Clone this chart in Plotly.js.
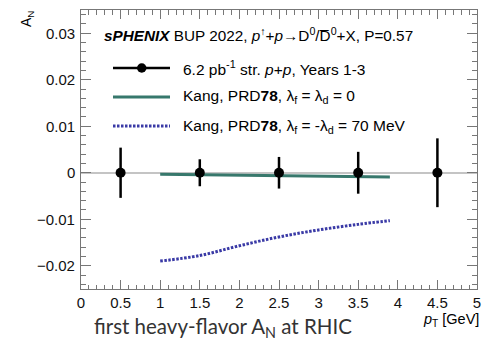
<!DOCTYPE html>
<html>
<head>
<meta charset="utf-8">
<script src="https://cdn.plot.ly/plotly-3.0.1.min.js"></script>
<style>
html,body{margin:0;padding:0;background:#fff;}
#chart{width:483px;height:343px;}
</style>
</head>
<body>
<div id="chart"></div>
<script>
// ---- data ----
const ptBins = [0.5, 1.5, 2.5, 3.5, 4.5];
const anValues = [0, 0, 0, 0, 0];
const anErrors = [0.0054, 0.0029, 0.0034, 0.0045, 0.0074];

const kangZeroPt = [1.0, 1.5, 2.0, 2.5, 3.0, 3.5, 3.9];
const kangZeroAn = [-0.0003, -0.0004, -0.0005, -0.0006, -0.0007, -0.0008, -0.0009];

const kang70Pt = [1.0, 1.5, 2.0, 2.5, 3.0, 3.5, 3.9];
const kang70An = [-0.0190, -0.0178, -0.0157, -0.0138, -0.0123, -0.0111, -0.0103];

const yTickVals = [0.03, 0.02, 0.01, 0, -0.01, -0.02];
const yTickText = ["0.03", "0.02", "0.01", "0", "\u22120.01", "\u22120.02"];

const legendLabels = [
  "6.2 pb<sup>-1</sup> str. <i>p</i>+<i>p</i>, Years 1-3",
  "Kang, PRD<b>78</b>, λ<sub>f</sub> = λ<sub>d</sub> = 0",
  "Kang, PRD<b>78</b>, λ<sub>f</sub> = -λ<sub>d</sub> = 70 MeV"
];
const headerText = "<b><i>sPHENIX</i></b> BUP 2022, <i>p</i><sup>↑</sup>+<i>p</i>→D<sup>0</sup>/D\u0305<sup>0</sup>+X, P=0.57";

// ---- layout geometry (pixels) ----
const W = 483, H = 343;
const L = 81, R = 477, T = 10, B = 289;
const px = x => (x - L) / (R - L);
const py = y => (B - y) / (B - T);

const font = "Liberation Sans, Arial, Helvetica, sans-serif";
const green = "#37786c";
const blue = "#3a3aa6";

const traces = [
  {
    x: kangZeroPt, y: kangZeroAn, mode: "lines", type: "scatter",
    line: {color: green, width: 3}, hoverinfo: "skip", showlegend: false
  },
  {
    x: kang70Pt, y: kang70An, mode: "lines", type: "scatter",
    line: {color: blue, width: 3, dash: "2.5px,1.5px", shape: "spline"}, hoverinfo: "skip", showlegend: false
  },
  {
    x: ptBins, y: anValues, mode: "markers", type: "scatter",
    marker: {color: "#000", size: 10},
    error_y: {type: "data", array: anErrors, visible: true, color: "#000", thickness: 2.5, width: 0},
    hoverinfo: "skip", showlegend: false
  }
];

const rowY = [68, 97, 126];
const annotations = [
  {xref: "paper", yref: "paper", x: px(102), y: py(34), xanchor: "left", yanchor: "middle",
   text: headerText, showarrow: false, font: {family: font, size: 15.3, color: "#000"}}
];
legendLabels.forEach((t, i) => {
  annotations.push({xref: "paper", yref: "paper", x: px(181), y: py(rowY[i]), xanchor: "left", yanchor: "middle",
    text: t, showarrow: false, font: {family: font, size: 15.5, color: "#000"}});
});
// y tick labels placed on the y scale, close to the axis line
yTickVals.forEach((v, i) => {
  annotations.push({xref: "paper", yref: "y", x: px(77), y: v, xanchor: "right", yanchor: "middle",
    text: yTickText[i], showarrow: false, font: {family: font, size: 15, color: "#111"}});
});
annotations.push(
  {xref: "paper", yref: "paper", x: px(481), y: py(320), xanchor: "right", yanchor: "middle",
   text: "<i>p</i><sub>T</sub> [GeV]", showarrow: false, font: {family: font, size: 14.5, color: "#000"}},
  {xref: "paper", yref: "paper", x: px(27), y: py(9), xanchor: "center", yanchor: "top", textangle: -90,
   text: "A<sub>N</sub>", showarrow: false, font: {family: font, size: 14, color: "#000"}},
  {xref: "paper", yref: "paper", x: px(223), y: py(328), xanchor: "center", yanchor: "middle",
   text: "first heavy-flavor A<sub>N</sub> at RHIC", showarrow: false,
   font: {family: "Lato, Open Sans, sans-serif", size: 20.5, color: "#333"}}
);

const shapes = [
  {type: "line", xref: "paper", yref: "paper", x0: px(113), x1: px(170), y0: py(rowY[0]), y1: py(rowY[0]),
   line: {color: "#000", width: 2.5}},
  {type: "circle", xref: "paper", yref: "paper", x0: px(137), x1: px(146.5), y0: py(rowY[0] - 4.75), y1: py(rowY[0] + 4.75),
   fillcolor: "#000", line: {color: "#000", width: 0}},
  {type: "line", xref: "paper", yref: "paper", x0: px(113), x1: px(170), y0: py(rowY[1]), y1: py(rowY[1]),
   line: {color: green, width: 3}},
  {type: "line", xref: "paper", yref: "paper", x0: px(113), x1: px(170), y0: py(rowY[2]), y1: py(rowY[2]),
   line: {color: blue, width: 3, dash: "2.5px,1.5px"}}
];

const axisCommon = {
  showgrid: false, showline: true, linecolor: "#777", linewidth: 1.2, mirror: "allticks",
  ticks: "inside", tickcolor: "#777", tickwidth: 1,
  tickfont: {family: font, size: 15, color: "#111"},
  fixedrange: true
};

const layout = {
  width: W, height: H,
  margin: {l: L, r: W - R, t: T, b: H - B, pad: 0},
  paper_bgcolor: "#fff", plot_bgcolor: "#fff",
  showlegend: false,
  xaxis: Object.assign({}, axisCommon, {
    range: [0, 5], tick0: 0, dtick: 0.5, ticklen: 9, zeroline: false,
    minor: {dtick: 0.1, ticks: "inside", ticklen: 4.5, tickcolor: "#777", showgrid: false}
  }),
  yaxis: Object.assign({}, axisCommon, {
    range: [-0.025, 0.035], tick0: 0, dtick: 0.01, ticklen: 10,
    showticklabels: false,
    zeroline: true, zerolinecolor: "#c4c4c4", zerolinewidth: 1.5,
    minor: {dtick: 0.002, ticks: "inside", ticklen: 5, tickcolor: "#777", showgrid: false}
  }),
  annotations: annotations,
  shapes: shapes
};

Plotly.newPlot("chart", traces, layout, {staticPlot: true, displayModeBar: false});
</script>
</body>
</html>
